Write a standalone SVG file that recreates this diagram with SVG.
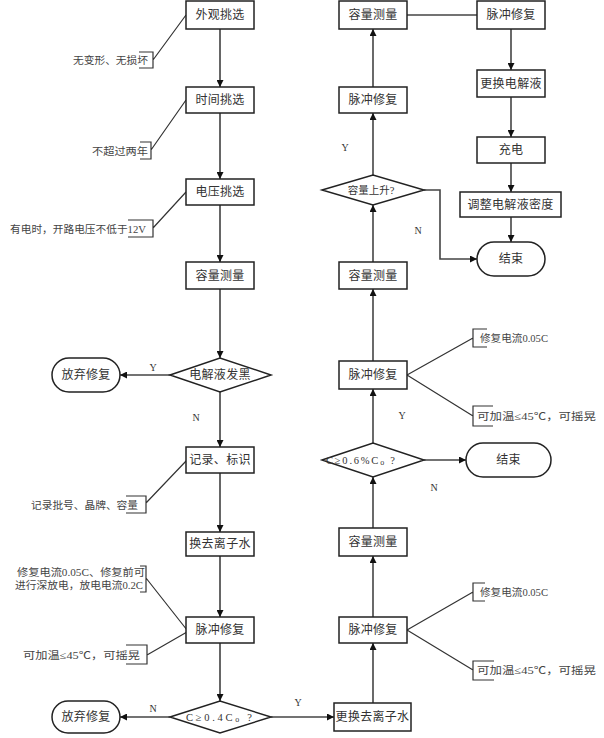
<svg xmlns="http://www.w3.org/2000/svg" width="604" height="738" viewBox="0 0 604 738">
<defs>
<marker id="ah" viewBox="0 0 10 10" refX="10" refY="5" markerWidth="7" markerHeight="7" markerUnits="userSpaceOnUse" orient="auto">
<path d="M0,0 L10,5 L0,10 z" fill="#111"/>
</marker>
<style>
.box{fill:#fff;stroke:#222;stroke-width:1.5}
.t{font-family:"Liberation Serif","Noto Sans CJK SC",serif;font-size:12px;fill:#333;text-anchor:middle;dominant-baseline:central;letter-spacing:0.3px}
.d{font-size:10.5px;letter-spacing:0}
.a{font-family:"Liberation Serif","Noto Sans CJK SC",serif;font-size:10.5px;fill:#444;dominant-baseline:central}
.yn{font-family:"Liberation Serif",serif;font-size:10px;fill:#333;text-anchor:middle;dominant-baseline:central}
.c{fill:none;stroke:#444;stroke-width:1.6}
.cl{fill:none;stroke:#666;stroke-width:2}
.br{fill:none;stroke:#333;stroke-width:1.2}
</style>
</defs>
<rect width="604" height="738" fill="#fff"/>

<g id="connectors">
<line class="cl" x1="220" y1="29" x2="220" y2="87" marker-end="url(#ah)"/>
<line class="cl" x1="220" y1="113" x2="220" y2="179" marker-end="url(#ah)"/>
<line class="cl" x1="220" y1="205" x2="220" y2="262" marker-end="url(#ah)"/>
<line class="cl" x1="220" y1="289" x2="220" y2="358" marker-end="url(#ah)"/>
<line class="cl" x1="220" y1="392" x2="220" y2="447" marker-end="url(#ah)"/>
<line class="cl" x1="220" y1="473" x2="220" y2="532" marker-end="url(#ah)"/>
<line class="cl" x1="220" y1="556" x2="220" y2="617" marker-end="url(#ah)"/>
<line class="cl" x1="220" y1="643" x2="220" y2="701" marker-end="url(#ah)"/>
<line class="c" x1="170" y1="375" x2="120" y2="375" marker-end="url(#ah)"/>
<line class="c" x1="170" y1="717" x2="120" y2="717" marker-end="url(#ah)"/>
<line class="c" x1="271" y1="717" x2="334" y2="717" marker-end="url(#ah)"/>
<line class="c" x1="373" y1="703" x2="373" y2="643" marker-end="url(#ah)"/>
<line class="c" x1="373" y1="617" x2="373" y2="556" marker-end="url(#ah)"/>
<line class="c" x1="373" y1="528" x2="373" y2="477" marker-end="url(#ah)"/>
<line class="c" x1="373" y1="443" x2="373" y2="389" marker-end="url(#ah)"/>
<line class="c" x1="373" y1="361" x2="373" y2="289" marker-end="url(#ah)"/>
<line class="c" x1="373" y1="262" x2="373" y2="205" marker-end="url(#ah)"/>
<line class="c" x1="373" y1="175" x2="373" y2="113" marker-end="url(#ah)"/>
<line class="c" x1="373" y1="87" x2="373" y2="29" marker-end="url(#ah)"/>
<line class="c" x1="424" y1="460" x2="466" y2="460" marker-end="url(#ah)"/>
<polyline class="c" points="424,190 440,190 440,259 477,259" marker-end="url(#ah)"/>
<line class="c" x1="407" y1="15" x2="477" y2="15"/>
<line class="c" x1="511" y1="29" x2="511" y2="70" marker-end="url(#ah)"/>
<line class="c" x1="511" y1="97" x2="511" y2="137" marker-end="url(#ah)"/>
<line class="c" x1="511" y1="163" x2="511" y2="192" marker-end="url(#ah)"/>
<line class="c" x1="511" y1="217" x2="511" y2="242" marker-end="url(#ah)"/>
<path class="br" d="M139,52 H153 V68 H139 M153,60 L186,15"/>
<path class="br" d="M140,142 H151 V159 H140 M151,150 L186,100"/>
<path class="br" d="M128,220 H153 V237 H128 M153,228 L186,192"/>
<path class="br" d="M126,496 H146 V513 H126 M146,503 L187,460"/>
<path class="br" d="M140,566 H146 V592 H140 M146,578 L187,630"/>
<path class="br" d="M126,645 H147 V664 H126 M147,655 L187,632"/>
<path class="br" d="M487,329 H473 V347 H487 M407,375 L473,338"/>
<path class="br" d="M493,406 H473 V426 H493 M407,375 L473,416"/>
<path class="br" d="M485,583 H473 V601 H485 M407,630 L473,592"/>
<path class="br" d="M494,661 H473 V680 H494 M407,630 L473,670"/>
</g>

<g id="n-waiguan"><rect class="box" x="186" y="1" width="68" height="28"/><text class="t" x="220" y="15">外观挑选</text></g>
<g id="n-shijian"><rect class="box" x="186" y="87" width="68" height="26"/><text class="t" x="220" y="100">时间挑选</text></g>
<g id="n-dianya"><rect class="box" x="186" y="179" width="68" height="26"/><text class="t" x="220" y="192">电压挑选</text></g>
<g id="n-rongliang1"><rect class="box" x="186" y="262" width="68" height="27"/><text class="t" x="220" y="275.5">容量测量</text></g>
<g id="n-fahei"><polygon class="box" points="170,375 220,358 271,375 220,392"/><text class="t" x="220" y="375" font-size="11.5">电解液发黑</text></g>
<g id="n-fangqi1"><rect class="box" x="52" y="358" width="68" height="34" rx="17"/><text class="t" x="86" y="375">放弃修复</text></g>
<g id="n-jilu"><rect class="box" x="186" y="447" width="68" height="26"/><text class="t" x="220" y="460">记录、标识</text></g>
<g id="n-huanqu"><rect class="box" x="186" y="532" width="68" height="24"/><text class="t" x="220" y="544">换去离子水</text></g>
<g id="n-maichong1"><rect class="box" x="186" y="617" width="68" height="26"/><text class="t" x="220" y="630">脉冲修复</text></g>
<g id="n-d04"><polygon class="box" points="170,717 220,701 271,717 220,733"/><text class="t d" x="186" y="717" style="text-anchor:start" textLength="66" lengthAdjust="spacing">C≥0.4C<tspan font-size="8" dy="2">o</tspan><tspan dy="-2"> ?</tspan></text></g>
<g id="n-fangqi2"><rect class="box" x="52" y="701" width="68" height="32" rx="16"/><text class="t" x="86" y="717">放弃修复</text></g>

<g id="n-genghuan"><rect class="box" x="334" y="703" width="77" height="28"/><text class="t" x="372.5" y="717">更换去离子水</text></g>
<g id="n-maichong2"><rect class="box" x="339" y="617" width="68" height="26"/><text class="t" x="373" y="630">脉冲修复</text></g>
<g id="n-rongliang2"><rect class="box" x="339" y="528" width="68" height="28"/><text class="t" x="373" y="542">容量测量</text></g>
<g id="n-d06"><polygon class="box" points="322,460 373,443 424,460 373,477"/><text class="t d" x="326" y="460" style="text-anchor:start" textLength="69" lengthAdjust="spacing">C≥0.6%C<tspan font-size="8" dy="2">o</tspan><tspan dy="-2"> ?</tspan></text></g>
<g id="n-jieshu1"><rect class="box" x="466" y="443" width="85" height="34" rx="17"/><text class="t" x="508.5" y="460">结束</text></g>
<g id="n-maichong3"><rect class="box" x="339" y="361" width="68" height="28"/><text class="t" x="373" y="375">脉冲修复</text></g>
<g id="n-rongliang3"><rect class="box" x="339" y="262" width="68" height="27"/><text class="t" x="373" y="275.5">容量测量</text></g>
<g id="n-shangsheng"><polygon class="box" points="322,190 373,175 424,190 373,205"/><text class="t d" x="371" y="190" font-size="10">容量上升?</text></g>
<g id="n-maichong4"><rect class="box" x="339" y="87" width="68" height="26"/><text class="t" x="373" y="100">脉冲修复</text></g>
<g id="n-rongliang4"><rect class="box" x="339" y="1" width="68" height="28"/><text class="t" x="373" y="15">容量测量</text></g>
<g id="n-maichong5"><rect class="box" x="477" y="1" width="68" height="28"/><text class="t" x="511" y="15">脉冲修复</text></g>
<g id="n-dianjieye"><rect class="box" x="477" y="70" width="68" height="27"/><text class="t" x="511" y="83.5">更换电解液</text></g>
<g id="n-chongdian"><rect class="box" x="477" y="137" width="68" height="26"/><text class="t" x="511" y="150">充电</text></g>
<g id="n-tiaozheng"><rect class="box" x="460" y="192" width="101" height="25"/><text class="t" x="510.5" y="204.5">调整电解液密度</text></g>
<g id="n-jieshu2"><rect class="box" x="477" y="242" width="68" height="34" rx="17"/><text class="t" x="511" y="259">结束</text></g>

<g id="labels">
<text class="a" x="73" y="60" textLength="75" lengthAdjust="spacingAndGlyphs">无变形、无损坏</text>
<text class="a" x="92" y="151" textLength="56" lengthAdjust="spacingAndGlyphs">不超过两年</text>
<text class="a" x="10" y="229" textLength="136" lengthAdjust="spacingAndGlyphs">有电时，开路电压不低于12V</text>
<text class="a" x="31" y="505" textLength="107" lengthAdjust="spacingAndGlyphs">记录批号、晶牌、容量</text>
<text class="a" x="17" y="572" textLength="128" lengthAdjust="spacingAndGlyphs">修复电流0.05C、修复前可</text>
<text class="a" x="15" y="585" textLength="128" lengthAdjust="spacingAndGlyphs">进行深放电，放电电流0.2C</text>
<text class="a" x="23" y="655" textLength="117" lengthAdjust="spacingAndGlyphs">可加温≤45℃，可摇晃</text>
<text class="a" x="480" y="338" textLength="68" lengthAdjust="spacingAndGlyphs">修复电流0.05C</text>
<text class="a" x="477" y="416" textLength="119" lengthAdjust="spacingAndGlyphs">可加温≤45℃，可摇晃</text>
<text class="a" x="480" y="592" textLength="68" lengthAdjust="spacingAndGlyphs">修复电流0.05C</text>
<text class="a" x="477" y="670" textLength="119" lengthAdjust="spacingAndGlyphs">可加温≤45℃，可摇晃</text>
<text class="yn" x="153" y="367">Y</text>
<text class="yn" x="196" y="417">N</text>
<text class="yn" x="153" y="708">N</text>
<text class="yn" x="298" y="702">Y</text>
<text class="yn" x="345" y="147">Y</text>
<text class="yn" x="418" y="230">N</text>
<text class="yn" x="402" y="415">Y</text>
<text class="yn" x="434" y="487">N</text>
</g>
</svg>
